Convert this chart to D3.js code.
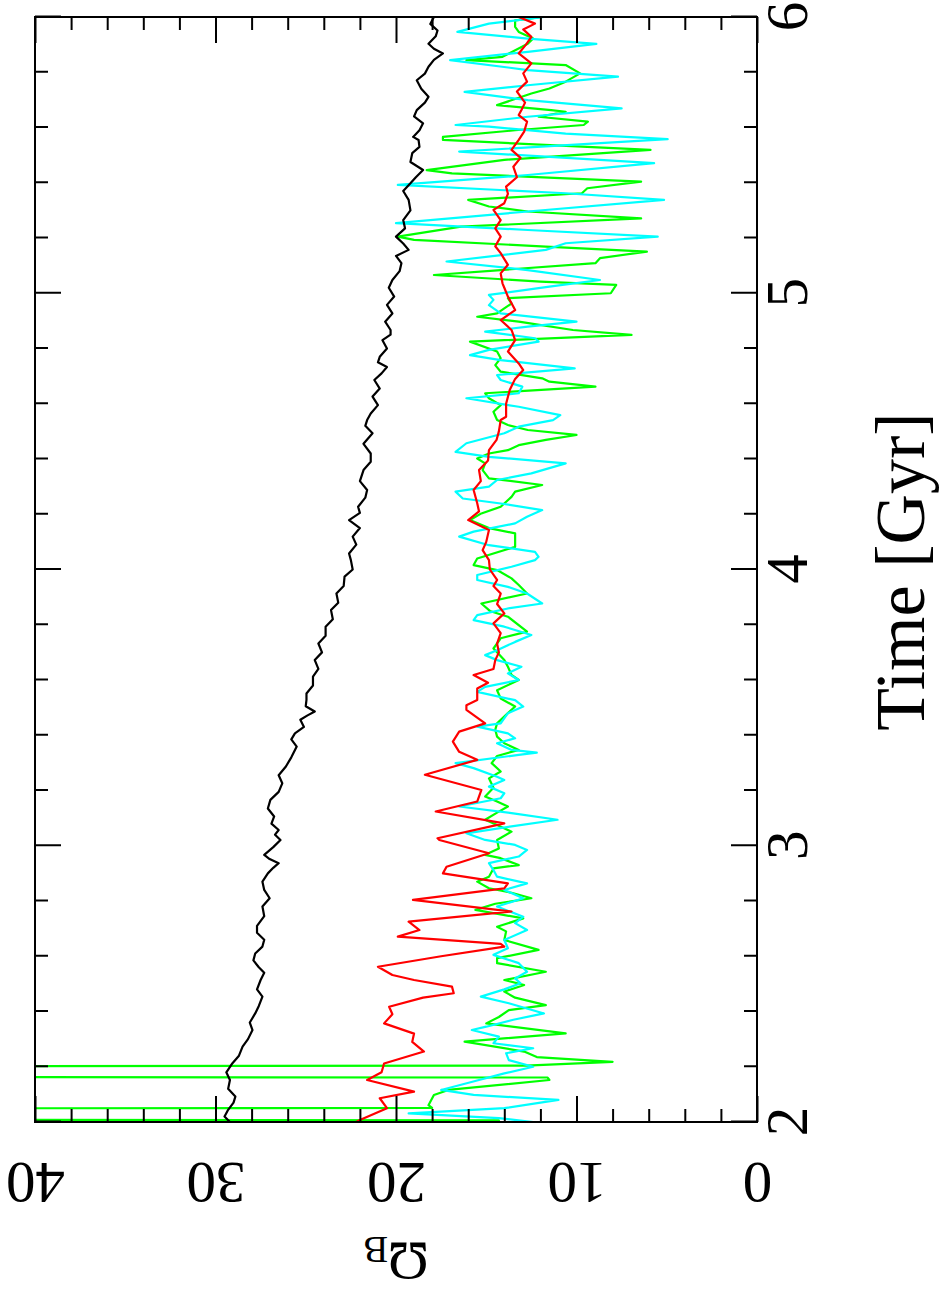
<!DOCTYPE html>
<html>
<head>
<meta charset="utf-8">
<script src="https://cdn.jsdelivr.net/npm/d3@7"></script>
<style>
  body { margin: 0; background: #fff; }
  svg { display: block; }
</style>
</head>
<body>
<script>
// tick values
var timeMajor = [2, 3, 4, 5, 6]
var timeMinor = [2.2, 2.4, 2.6, 2.8, 3.2, 3.4, 3.6, 3.8, 4.2, 4.4, 4.6, 4.8, 5.2, 5.4, 5.6, 5.8]
var omegaMajor = [0, 10, 20, 30, 40]
var omegaMinor = [2, 4, 6, 8, 12, 14, 16, 18, 22, 24, 26, 28, 32, 34, 36, 38]

// [time Gyr, Omega_B]
var blackPts = [[2.000,29.2],[2.02,29.5],[2.044,29.3],[2.07,29.0],[2.092,28.9],[2.12,29.3],[2.152,29.2],[2.18,29.4],[2.213,29.06],[2.24,28.7],[2.273,28.5],[2.30,28.2],[2.333,27.95],[2.36,28.1],[2.393,27.8],[2.42,27.6],[2.454,27.4],[2.48,27.7],[2.514,27.5],[2.54,27.3],[2.56,27.6],[2.585,27.9],[2.61,27.8],[2.635,27.4],[2.66,27.3],[2.685,27.7],[2.71,27.7],[2.745,27.3],[2.78,27.4],[2.81,27.0],[2.84,27.3],[2.87,27.4],[2.90,27.1],[2.92,26.8],[2.937,26.5],[2.952,27.0],[2.967,27.3],[2.995,26.8],[3.021,26.4],[3.04,26.7],[3.057,26.5],[3.08,26.9],[3.106,26.75],[3.135,27.1],[3.166,26.96],[3.195,26.5],[3.226,26.3],[3.255,26.5],[3.287,26.1],[3.32,25.8],[3.359,25.5],[3.385,25.8],[3.407,25.6],[3.43,25.1],[3.456,25.3],[3.472,24.9],[3.486,24.5],[3.505,25.0],[3.528,24.96],[3.551,24.96],[3.58,24.6],[3.612,24.6],[3.64,24.3],[3.672,24.5],[3.70,24.1],[3.732,24.3],[3.76,23.9],[3.793,23.9],[3.82,23.5],[3.853,23.6],[3.88,23.2],[3.913,23.3],[3.94,22.9],[3.974,22.85],[4.00,22.4],[4.034,22.5],[4.058,22.6],[4.09,22.2],[4.119,22.4],[4.15,22.0],[4.179,22.6],[4.205,22.0],[4.227,22.1],[4.26,21.7],[4.288,21.6],[4.32,22.0],[4.36,21.8],[4.39,21.4],[4.42,21.4],[4.455,21.8],[4.493,21.3],[4.52,21.7],[4.541,21.6],[4.565,21.4],[4.595,21.0],[4.626,21.3],[4.655,20.9],[4.686,21.2],[4.71,20.8],[4.733,20.5],[4.75,21.0],[4.77,20.9],[4.80,20.5],[4.83,20.75],[4.85,20.3],[4.867,20.3],[4.897,20.6],[4.927,20.2],[4.958,20.5],[4.988,20.1],[5.02,20.4],[5.048,20.2],[5.08,19.8],[5.109,19.7],[5.135,20.0],[5.157,19.3],[5.18,19.6],[5.205,20.0],[5.235,19.5],[5.265,19.6],[5.30,19.2],[5.338,19.3],[5.37,19.6],[5.398,19.2],[5.42,18.9],[5.446,18.5],[5.475,19.2],[5.507,19.1],[5.53,18.7],[5.555,18.75],[5.566,19.05],[5.59,18.7],[5.615,18.5],[5.64,19.0],[5.663,18.85],[5.69,18.4],[5.711,18.2],[5.74,18.6],[5.771,18.85],[5.795,18.4],[5.82,18.2],[5.845,17.9],[5.868,17.4],[5.885,17.9],[5.903,18.2],[5.93,17.8],[5.951,17.7],[5.975,18.1],[6.0,17.9]]

var redPts = [[2.0,22.2],[2.007,22.0],[2.05,20.5],[2.086,20.9],[2.11,19.0],[2.152,21.6],[2.18,20.8],[2.212,20.66],[2.255,18.45],[2.29,19.1],[2.32,19.0],[2.357,20.66],[2.39,20.2],[2.417,20.38],[2.45,18.5],[2.466,16.8],[2.49,16.9],[2.514,19.0],[2.532,20.2],[2.562,21.0],[2.60,17.5],[2.635,14.0],[2.645,14.2],[2.671,19.9],[2.695,18.7],[2.725,19.3],[2.762,13.6],[2.804,19.06],[2.846,14.0],[2.864,13.8],[2.90,17.4],[2.924,17.2],[2.973,14.85],[3.021,17.6],[3.027,17.7],[3.081,14.0],[3.124,17.8],[3.16,15.5],[3.202,15.27],[3.257,18.4],[3.311,15.5],[3.34,16.5],[3.377,16.85],[3.413,16.5],[3.443,15.06],[3.492,16.1],[3.509,16.1],[3.528,15.5],[3.569,15.5],[3.59,14.9],[3.618,15.7],[3.64,14.6],[3.672,14.5],[3.70,14.3],[3.732,14.4],[3.77,14.2],[3.805,14.6],[3.841,14.0],[3.875,14.4],[3.913,14.2],[3.94,14.6],[3.962,14.4],[4.00,14.8],[4.034,14.85],[4.07,15.2],[4.10,15.0],[4.143,14.85],[4.179,16.0],[4.21,15.4],[4.24,15.5],[4.288,15.7],[4.32,15.3],[4.36,15.4],[4.395,14.9],[4.432,14.85],[4.469,14.43],[4.50,14.3],[4.541,14.2],[4.553,13.9],[4.60,13.9],[4.65,13.7],[4.69,13.4],[4.722,12.95],[4.746,13.2],[4.789,13.8],[4.83,13.4],[4.867,13.6],[4.903,14.2],[4.939,13.4],[4.988,13.8],[5.02,14.0],[5.036,14.1],[5.072,14.2],[5.103,13.8],[5.145,14.2],[5.17,14.5],[5.205,14.2],[5.235,14.5],[5.265,14.2],[5.302,14.6],[5.326,14.0],[5.36,13.8],[5.386,13.9],[5.42,13.3],[5.458,13.5],[5.49,13.1],[5.519,13.6],[5.555,13.2],[5.585,12.9],[5.621,12.74],[5.645,13.2],[5.663,13.05],[5.69,12.85],[5.73,13.3],[5.766,12.74],[5.796,12.95],[5.832,12.5],[5.868,13.2],[5.90,12.8],[5.928,12.5],[5.955,12.95],[5.976,12.3],[6.0,13.2]]

// the two early green excursions run far off the top of the frame
var greenPts = [[2.0,14.5],[2.006,14.3],[2.03,400],[2.051,18.0],[2.061,18.2],[2.098,17.9],[2.116,17.1],[2.152,11.5],[2.161,11.6],[2.182,400],[2.204,12.8],[2.218,8.0],[2.235,12.2],[2.255,12.9],[2.291,16.2],[2.321,10.6],[2.357,15.0],[2.38,14.3],[2.405,13.75],[2.423,11.7],[2.45,13.4],[2.472,14.0],[2.496,12.9],[2.514,14.0],[2.544,11.7],[2.575,14.4],[2.593,14.4],[2.623,12.1],[2.659,14.0],[2.69,13.9],[2.707,14.4],[2.737,12.95],[2.768,15.6],[2.79,14.5],[2.81,12.5],[2.83,13.6],[2.846,14.85],[2.87,15.5],[2.888,14.85],[2.918,14.6],[2.93,13.2],[2.955,14.2],[2.967,15.06],[2.99,14.3],[3.021,14.4],[3.051,13.6],[3.075,14.4],[3.094,15.06],[3.12,14.4],[3.142,13.8],[3.16,14.4],[3.178,15.06],[3.21,14.6],[3.244,14.85],[3.269,14.2],[3.299,14.7],[3.325,14.4],[3.347,13.2],[3.371,14.0],[3.395,14.4],[3.42,14.5],[3.443,14.4],[3.48,13.8],[3.504,13.4],[3.533,14.2],[3.563,14.4],[3.60,13.2],[3.618,13.6],[3.648,13.8],[3.672,14.0],[3.714,14.6],[3.751,14.2],[3.775,12.74],[3.829,13.8],[3.85,14.8],[3.877,15.27],[3.913,12.74],[3.944,13.2],[3.968,13.6],[3.998,14.4],[4.016,15.7],[4.04,15.5],[4.082,13.4],[4.131,13.4],[4.15,14.85],[4.179,15.9],[4.203,15.27],[4.227,14.2],[4.263,13.6],[4.282,13.4],[4.306,11.9],[4.33,14.85],[4.36,15.2],[4.384,15.06],[4.402,15.5],[4.42,14.85],[4.432,13.8],[4.45,13.2],[4.469,11.7],[4.487,10.0],[4.505,12.7],[4.523,13.8],[4.541,14.4],[4.571,14.6],[4.595,14.2],[4.62,14.85],[4.638,15.06],[4.662,8.95],[4.68,11.5],[4.692,11.9],[4.716,14.2],[4.74,14.5],[4.765,14.2],[4.789,14.4],[4.825,15.9],[4.849,6.95],[4.867,10.2],[4.897,13.2],[4.915,15.5],[4.927,14.4],[4.945,14.0],[4.963,13.6],[4.982,13.8],[5.0,8.1],[5.03,7.8],[5.042,12.0],[5.066,17.9],[5.084,14.2],[5.109,8.95],[5.127,8.7],[5.151,6.1],[5.169,11.7],[5.193,19.0],[5.205,19.9],[5.241,16.4],[5.271,6.42],[5.296,12.7],[5.314,14.85],[5.338,16.0],[5.362,9.7],[5.38,9.4],[5.404,6.42],[5.434,16.9],[5.446,18.3],[5.483,14.0],[5.519,5.9],[5.555,17.4],[5.566,17.4],[5.59,13.4],[5.609,9.6],[5.621,9.37],[5.639,12.1],[5.657,10.6],[5.663,11.4],[5.681,14.4],[5.723,12.5],[5.741,11.5],[5.766,10.6],[5.796,9.8],[5.826,10.6],[5.844,16.1],[5.856,14.1],[5.903,12.7],[5.922,12.4],[5.946,13.2],[5.964,13.4],[5.988,13.4],[6.0,11.9]]

var cyanPts = [[2.0,12.4],[2.014,14.3],[2.031,19.3],[2.05,14.0],[2.08,11.0],[2.098,15.7],[2.116,17.5],[2.152,15.4],[2.176,14.0],[2.2,12.4],[2.224,13.75],[2.249,13.9],[2.267,12.4],[2.285,14.6],[2.309,14.3],[2.333,15.8],[2.345,15.0],[2.37,13.5],[2.393,11.8],[2.43,13.75],[2.454,15.3],[2.48,14.0],[2.502,13.1],[2.52,13.4],[2.544,12.74],[2.575,13.2],[2.605,14.6],[2.629,13.8],[2.659,14.0],[2.695,12.74],[2.72,13.4],[2.743,12.95],[2.78,14.4],[2.81,12.95],[2.84,14.0],[2.864,12.74],[2.888,14.4],[2.912,14.6],[2.937,14.85],[2.961,13.2],[2.985,12.74],[3.003,13.4],[3.021,15.06],[3.045,16.1],[3.07,13.6],[3.094,11.05],[3.118,13.6],[3.142,16.5],[3.172,14.2],[3.19,14.0],[3.214,14.85],[3.238,14.0],[3.25,14.4],[3.281,15.7],[3.299,16.7],[3.329,13.2],[3.337,12.2],[3.347,13.6],[3.371,14.4],[3.389,13.4],[3.407,13.8],[3.431,15.5],[3.443,14.2],[3.48,13.8],[3.504,12.95],[3.527,13.4],[3.557,15.5],[3.575,15.06],[3.60,13.2],[3.624,13.8],[3.648,13.05],[3.672,14.4],[3.69,15.06],[3.708,14.4],[3.738,13.4],[3.763,12.5],[3.793,14.0],[3.817,15.7],[3.835,15.5],[3.859,13.8],[3.877,11.9],[3.913,12.74],[3.937,13.8],[3.962,15.5],[3.98,15.5],[4.01,13.6],[4.034,12.3],[4.046,12.1],[4.064,12.3],[4.088,14.85],[4.119,16.5],[4.137,15.7],[4.167,13.4],[4.191,12.74],[4.215,11.9],[4.239,14.2],[4.257,16.3],[4.282,16.7],[4.30,14.85],[4.324,14.4],[4.348,12.5],[4.384,10.6],[4.408,14.85],[4.426,16.7],[4.457,16.1],[4.493,14.0],[4.517,13.2],[4.541,11.3],[4.559,10.9],[4.589,13.2],[4.62,16.1],[4.638,13.2],[4.662,13.0],[4.686,14.2],[4.704,14.4],[4.728,10.1],[4.758,14.2],[4.776,15.9],[4.795,14.85],[4.825,12.1],[4.837,12.3],[4.861,15.06],[4.879,12.7],[4.897,10.0],[4.927,14.2],[4.957,14.85],[4.976,14.6],[4.994,14.85],[5.024,11.5],[5.048,8.7],[5.084,12.7],[5.115,17.2],[5.157,11.7],[5.181,10.6],[5.205,5.5],[5.229,12.7],[5.254,20.0],[5.296,12.7],[5.338,5.15],[5.362,10.6],[5.392,19.9],[5.428,12.7],[5.471,5.7],[5.513,16.5],[5.558,4.95],[5.578,10.6],[5.603,14.85],[5.609,16.7],[5.639,12.7],[5.669,7.5],[5.699,12.7],[5.729,16.2],[5.753,12.7],[5.784,7.7],[5.808,12.7],[5.844,17.0],[5.874,12.7],[5.903,8.9],[5.922,12.7],[5.946,16.6],[5.976,14.85],[6.0,11.8]]

var series = [
  { pts: greenPts, color: '#00ff00' },
  { pts: cyanPts,  color: '#00ffff' },
  { pts: redPts,   color: '#ff0000' },
  { pts: blackPts, color: '#000000' }
]

var width = 940, height = 1296
var plotW = 1105, plotH = 722   // unrotated: time across, omega up
var font = '"Liberation Serif", "DejaVu Serif", serif'

var svg = d3.select('body').append('svg')
    .attr('width', width)
    .attr('height', height)

// whole figure is turned a quarter turn counter-clockwise
var g = svg.append('g')
    .attr('transform', 'translate(35,1122) rotate(-90)')

var x = d3.scaleLinear().domain([2, 6]).range([0, plotW])
var y = d3.scaleLinear().domain([0, 40]).range([plotH, 0])

g.append('clipPath').attr('id', 'plotclip')
  .append('rect')
    .attr('width', plotW)
    .attr('height', plotH)

var line = d3.line()
    .x(function (d) { return x(d[0]) })
    .y(function (d) { return y(d[1]) })

var lines = g.append('g').attr('clip-path', 'url(#plotclip)')
series.forEach(function (s) {
    lines.append('path')
        .attr('d', line(s.pts))
        .attr('fill', 'none')
        .attr('stroke', s.color)
        .attr('stroke-width', 2.2)
        .attr('stroke-linejoin', 'round')
})

function addAxis(axis, tx, ty) {
    var a = g.append('g')
        .attr('transform', 'translate(' + tx + ',' + ty + ')')
        .call(axis)
    a.select('.domain').remove()
    a.selectAll('line').attr('stroke-width', 2)
    a.attr('font-family', font).attr('font-size', 59)
    return a
}

// time axis (bottom with labels, top without)
addAxis(d3.axisBottom(x).tickValues(timeMajor).tickSizeInner(-26).tickSizeOuter(0)
    .tickPadding(8).tickFormat(d3.format('d')), 0, plotH)
addAxis(d3.axisBottom(x).tickValues(timeMinor).tickSizeInner(-13).tickSizeOuter(0)
    .tickFormat(''), 0, plotH)
addAxis(d3.axisTop(x).tickValues(timeMajor).tickSizeInner(-26).tickSizeOuter(0)
    .tickFormat(''), 0, 0)
addAxis(d3.axisTop(x).tickValues(timeMinor).tickSizeInner(-13).tickSizeOuter(0)
    .tickFormat(''), 0, 0)

// omega axis, labels run along the axis
var left = addAxis(d3.axisLeft(y).tickValues(omegaMajor).tickSizeInner(-26).tickSizeOuter(0)
    .tickFormat(d3.format('d')), 0, 0)
left.selectAll('text')
    .attr('x', 0).attr('y', 0).attr('dy', null)
    .attr('text-anchor', 'middle')
    .attr('transform', 'translate(-41,0) rotate(-90)')
addAxis(d3.axisLeft(y).tickValues(omegaMinor).tickSizeInner(-13).tickSizeOuter(0)
    .tickFormat(''), 0, 0)
addAxis(d3.axisRight(y).tickValues(omegaMajor).tickSizeInner(-26).tickSizeOuter(0)
    .tickFormat(''), plotW, 0)
addAxis(d3.axisRight(y).tickValues(omegaMinor).tickSizeInner(-13).tickSizeOuter(0)
    .tickFormat(''), plotW, 0)

g.append('rect')
    .attr('width', plotW)
    .attr('height', plotH)
    .attr('fill', 'none')
    .attr('stroke', '#000')
    .attr('stroke-width', 2)

g.append('text')
    .attr('x', plotW / 2 - 2)
    .attr('y', plotH + 167)
    .attr('text-anchor', 'middle')
    .attr('font-family', font)
    .attr('font-size', 70)
    .text('Time [Gyr]')

var ylab = g.append('text')
    .attr('text-anchor', 'middle')
    .attr('font-family', font)
    .attr('font-size', 55)
    .attr('transform', 'translate(-121,' + (plotH / 2) + ') rotate(-90)')
ylab.append('tspan').text('\u03A9')
ylab.append('tspan').attr('font-size', 37).attr('dy', 6).text('B')
</script>
</body>
</html>
